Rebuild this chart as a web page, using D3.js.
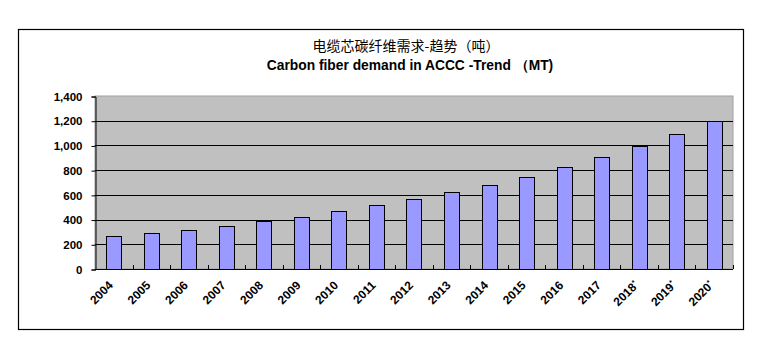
<!DOCTYPE html>
<html><head><meta charset="utf-8">
<script src="https://cdn.jsdelivr.net/npm/d3@7/dist/d3.min.js"></script>
<style>body{margin:0;background:#fff;}svg{display:block;}</style>
</head><body><svg id="c" width="760" height="342"></svg>
<script>
const categories = ["2004","2005","2006","2007","2008","2009","2010","2011","2012","2013","2014","2015","2016","2017","2018","2019","2020"];
const forecast = [false,false,false,false,false,false,false,false,false,false,false,false,false,false,true,true,true];
const demand = [265,291,313,345,386,418,467,515,564,620,677,742,823,904,993,1090,1200];
const yTicks = [0,200,400,600,800,1000,1200,1400];
const titleCN = "电缆芯碳纤维需求-趋势（吨）";
const titleEN = "Carbon fiber demand in ACCC -Trend （MT)";

const svg = d3.select("#c");
const m = {l:95, r:733, t:96, b:269};
const x = d3.scaleBand().domain(categories).range([m.l, m.r]).paddingInner(0.6).paddingOuter(0.3);
const xb = d3.scaleBand().domain(categories).range([m.l, m.r]);
const y = d3.scaleLinear().domain([0,1400]).range([m.b, m.t]);

// outer frame
svg.append("rect").attr("x",18.5).attr("y",29.5).attr("width",725).attr("height",300)
  .attr("fill","#fff").attr("stroke","#000").attr("stroke-width",1.2);

// titles
svg.append("text").attr("x",406).attr("y",51).attr("text-anchor","middle")
  .attr("font-family","'Noto Sans CJK SC',sans-serif").attr("font-size",14).attr("fill","#000").text(titleCN);
svg.append("text").attr("x",410).attr("y",70).attr("text-anchor","middle")
  .attr("font-family","'Liberation Sans',Arial,sans-serif").attr("font-weight","bold").attr("font-size",13.8).attr("fill","#000").text(titleEN);

// plot bg
svg.append("rect").attr("x",m.l).attr("y",m.t).attr("width",m.r-m.l).attr("height",m.b-m.t)
  .attr("fill","#c0c0c0").attr("stroke","#a0a0a0").attr("stroke-width",1);

// gridlines
svg.append("g").selectAll("line").data(yTicks.filter(d=>d>0 && d<1400)).join("line")
  .attr("x1",m.l).attr("x2",m.r).attr("y1",d=>Math.round(y(d))+0.5).attr("y2",d=>Math.round(y(d))+0.5)
  .attr("stroke","#000").attr("stroke-width",1);

// bars
svg.append("g").selectAll("rect").data(demand).join("rect")
  .attr("x",(d,i)=>Math.round(x(categories[i]))+0.5)
  .attr("y",d=>Math.round(y(d))+0.5)
  .attr("width",Math.round(x.bandwidth()))
  .attr("height",d=>Math.round(y(0))-Math.round(y(d)))
  .attr("fill","#9999ff").attr("stroke","#000").attr("stroke-width",1);

// y axis
const ya = d3.axisLeft(y).tickValues(yTicks).tickSize(4).tickFormat(d3.format(","));
const gy = svg.append("g").attr("transform",`translate(${m.l+0.5},0.5)`).call(ya);
gy.select(".domain").attr("stroke","#000");
gy.selectAll(".tick line").attr("stroke","#000");
gy.selectAll("text").attr("font-family","'Liberation Sans',Arial,sans-serif").attr("font-weight","bold")
  .attr("font-size",11.5).attr("fill","#000").attr("x",-13);

// x axis line and inner ticks at category boundaries
svg.append("line").attr("x1",m.l).attr("x2",m.r).attr("y1",m.b+0.5).attr("y2",m.b+0.5).attr("stroke","#000");
svg.append("g").selectAll("line").data(categories.slice(1)).join("line")
  .attr("x1",d=>Math.round(xb(d))+0.5).attr("x2",d=>Math.round(xb(d))+0.5)
  .attr("y1",m.b-4).attr("y2",m.b)
  .attr("stroke","#000");
svg.append("line").attr("x1",m.r+0.5).attr("x2",m.r+0.5).attr("y1",m.b-4).attr("y2",m.b).attr("stroke","#000");

// x labels
const xl = svg.append("g").selectAll("text").data(categories).join("text")
  .attr("transform",(d)=>`translate(${xb(d)+xb.bandwidth()/2},${m.b+17}) rotate(-45)`)
  .attr("text-anchor","end")
  .attr("font-family","'Liberation Sans',Arial,sans-serif").attr("font-weight","bold")
  .attr("font-size",12).attr("fill","#000");
xl.each(function(d,i){
  const t = d3.select(this);
  t.append("tspan").text(d);
  if (forecast[i]) t.append("tspan").attr("font-size",7).attr("dy",-4).text("*");
});
</script></body></html>
